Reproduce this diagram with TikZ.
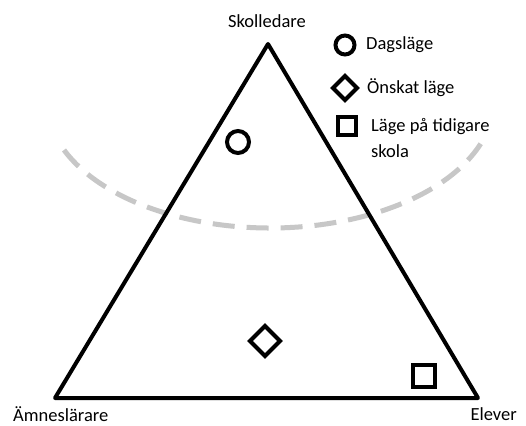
\documentclass[tikz,border=0pt]{standalone}
\usepackage{fontspec}
\setmainfont{Carlito}
\begin{document}
\begin{tikzpicture}[x=1pt,y=-1pt,
  edge/.style={line width=4pt, line join=round, line cap=round},
  symb/.style={line width=4pt},
  lbl/.style={font=\fontsize{18.5}{26}\selectfont, inner sep=0pt},
  zone/.style={draw=black!22, line width=5pt, dash pattern=on 22pt off 12pt}]
\useasboundingbox[fill=white] (0,0) rectangle (526,425);
% vertices
\coordinate (top) at (268,44);
\coordinate (bl) at (55,398);
\coordinate (br) at (478,398);
% dashed zone arc
\draw[zone] (64,150) arc[x radius=224, y radius=128, start angle=157, end angle=20];
% triangle
\draw[edge] (top) -- (bl) -- (br) -- cycle;
% labels
\node[lbl, anchor=center] (skl) at (267,21) {Skolledare};
\node[lbl, anchor=west] (amn) at (13,414) {Ämneslärare};
\node[lbl, anchor=east] (elv) at (517,414) {Elever};
% markers in triangle
\draw[symb] (238,142) circle[radius=11];
\draw[symb] (265,326) -- (280,341) -- (265,356) -- (250,341) -- cycle;
\draw[symb] (413,365) rectangle (435,387);
% legend
\draw[symb] (345,45) circle[radius=9.5];
\node[lbl, anchor=west] (l1) at (366,45) {Dagsläge};
\draw[symb] (345,76) -- (357,88) -- (345,100) -- (333,88) -- cycle;
\node[lbl, anchor=west] (l2) at (367,88) {Önskat läge};
\draw[symb] (338,117) rectangle (356,135);
\node[lbl, anchor=west, align=left] (l3) at (371,138) {Läge på tidigare\\skola};
\end{tikzpicture}
\end{document}
